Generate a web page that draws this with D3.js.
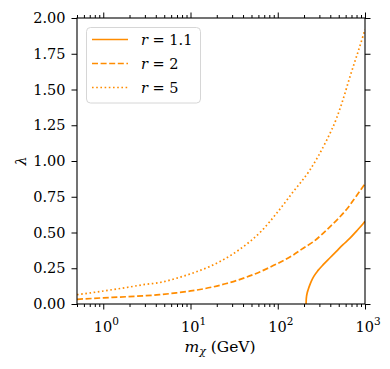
<!DOCTYPE html>
<html>
<head>
<meta charset="utf-8">
<script src="https://cdn.jsdelivr.net/npm/d3@7"></script>
<style>
  html, body { margin: 0; padding: 0; background: #fff; }
  svg { display: block; }
</style>
</head>
<body>
<svg id="chart" width="390" height="369"></svg>
<script>
// ---- data ----
const massR5 = [0.5, 0.76, 1.18, 1.84, 2.86, 4.44, 6.9, 10.7, 16.6, 21.5, 36.6, 65, 96.7, 150, 233, 363, 473, 540, 673, 956, 1000];
const lambdaR5 = [0.065, 0.08, 0.097, 0.115, 0.135, 0.15, 0.18, 0.217, 0.262, 0.295, 0.382, 0.51, 0.633, 0.784, 0.936, 1.145, 1.30, 1.40, 1.59, 1.88, 1.92];

const massR2 = [0.5, 1, 1.84, 4.4, 6.9, 10.6, 25.8, 52, 101, 150, 187, 255, 396, 630, 800, 1000];
const lambdaR2 = [0.033, 0.043, 0.051, 0.065, 0.078, 0.093, 0.143, 0.205, 0.285, 0.342, 0.382, 0.435, 0.54, 0.67, 0.757, 0.84];

const massR11 = [211, 212, 214, 218, 223, 232, 245, 260, 290, 332, 400, 473, 560, 673, 800, 956, 1000];
const lambdaR11 = [0, 0.03, 0.055, 0.08, 0.10, 0.13, 0.165, 0.195, 0.235, 0.275, 0.325, 0.37, 0.415, 0.46, 0.51, 0.563, 0.578];

const seriesNames = ["r = 1.1", "r = 2", "r = 5"];
const yTicks = [0, 0.25, 0.5, 0.75, 1.0, 1.25, 1.5, 1.75, 2.0];
const xMajorTicks = [1, 10, 100, 1000];
const xTickExps = ["0", "1", "2", "3"];

// ---- layout ----
const pL = 77, pR = 365, pT = 18, pB = 304;
const color = "#ff8c00";
const FONT = "DejaVu Serif";
const FS = 14.5;
const FSS = 10.5;

const svg = d3.select("#chart");
const x = d3.scaleLog().domain([0.5, 1000]).range([pL, pR]);
const y = d3.scaleLinear().domain([0, 2]).range([pB, pT]);

const xMinor = [];
[0.1, 1, 10, 100].forEach(d => { for (let k = 2; k <= 9; k++) { const v = d * k; if (v >= 0.5 && v <= 1000) xMinor.push(v); } });

const line = d3.line().x(d => x(d[0])).y(d => y(d[1])).curve(d3.curveMonotoneX);
const zip = (a, b) => a.map((v, i) => [v, b[i]]);

const styles = [
  { data: zip(massR11, lambdaR11), dash: null },
  { data: zip(massR2, lambdaR2), dash: "6,2.6" },
  { data: zip(massR5, lambdaR5), dash: "1.6,2.6" }
];

svg.append("defs").append("clipPath").attr("id", "clip")
  .append("rect").attr("x", pL).attr("y", pT).attr("width", pR - pL).attr("height", pB - pT);

const g = svg.append("g").attr("clip-path", "url(#clip)");
styles.forEach(s => {
  g.append("path").attr("d", line(s.data)).attr("fill", "none")
    .attr("stroke", color).attr("stroke-width", 1.7)
    .attr("stroke-dasharray", s.dash);
});

// ---- axes ----
const major = 5.5, minor = 3;
const fmt = d3.format(".2f");

const gl = svg.append("g").attr("transform", `translate(${pL},0)`)
  .call(d3.axisLeft(y).tickValues(yTicks).tickFormat(fmt).tickSize(major).tickPadding(6));
const gr = svg.append("g").attr("transform", `translate(${pR},0)`)
  .call(d3.axisRight(y).tickValues(yTicks).tickFormat("").tickSize(major));
const gb = svg.append("g").attr("transform", `translate(0,${pB})`)
  .call(d3.axisBottom(x).tickValues(xMajorTicks).tickFormat("").tickSize(major));
const gbm = svg.append("g").attr("transform", `translate(0,${pB})`)
  .call(d3.axisBottom(x).tickValues(xMinor).tickFormat("").tickSize(minor));
const gt = svg.append("g").attr("transform", `translate(0,${pT})`)
  .call(d3.axisTop(x).tickValues(xMajorTicks).tickFormat("").tickSize(major));
const gtm = svg.append("g").attr("transform", `translate(0,${pT})`)
  .call(d3.axisTop(x).tickValues(xMinor).tickFormat("").tickSize(minor));

[gl, gr, gb, gbm, gt, gtm].forEach(a => {
  a.attr("font-family", FONT).attr("font-size", FS);
  a.select(".domain").remove();
  a.selectAll("line").attr("stroke", "#000").attr("stroke-width", 1);
});
gl.selectAll("text").attr("fill", "#000");

// x tick labels 10^n
xMajorTicks.forEach((v, i) => {
  const t = svg.append("text").attr("x", x(v) + 3).attr("y", 332).attr("text-anchor", "middle")
    .attr("font-size", FS).attr("font-family", FONT);
  t.append("tspan").text("10");
  t.append("tspan").attr("font-size", FSS).attr("dy", -7).text(xTickExps[i]);
});

// frame
svg.append("rect").attr("x", pL).attr("y", pT).attr("width", pR - pL).attr("height", pB - pT)
  .attr("fill", "none").attr("stroke", "#000").attr("stroke-width", 1.1);

// axis labels
const xl = svg.append("text").attr("x", (pL + pR) / 2 - 1).attr("y", 352).attr("text-anchor", "middle")
  .attr("font-size", 15.5).attr("font-family", FONT);
xl.append("tspan").attr("font-style", "italic").text("m");
xl.append("tspan").attr("font-style", "italic").attr("font-size", 11).attr("dy", 3).text("χ");
xl.append("tspan").attr("dy", -3).text(" (GeV)");

svg.append("text").attr("transform", `translate(26,${(pT + pB) / 2}) rotate(-90)`)
  .attr("text-anchor", "middle").attr("font-size", FS).attr("font-family", FONT)
  .attr("font-style", "italic").text("λ");

// legend
const lg = svg.append("g");
lg.append("rect").attr("x", 86.5).attr("y", 27.5).attr("width", 114).attr("height", 75.5).attr("rx", 4)
  .attr("fill", "#fff").attr("fill-opacity", 0.8).attr("stroke", "#d6d6d6").attr("stroke-width", 1);
const rowsY = [39.5, 63.5, 87.5];
styles.forEach((s, i) => {
  lg.append("line").attr("x1", 92).attr("x2", 128).attr("y1", rowsY[i]).attr("y2", rowsY[i])
    .attr("stroke", color).attr("stroke-width", 1.7).attr("stroke-dasharray", s.dash);
  const parts = seriesNames[i].split(" = ");
  const t = lg.append("text").attr("x", 141).attr("y", rowsY[i] + 5).attr("font-size", FS).attr("font-family", FONT);
  t.append("tspan").attr("font-style", "italic").text(parts[0]);
  t.append("tspan").text(" = " + parts[1]);
});
</script>
</body>
</html>
